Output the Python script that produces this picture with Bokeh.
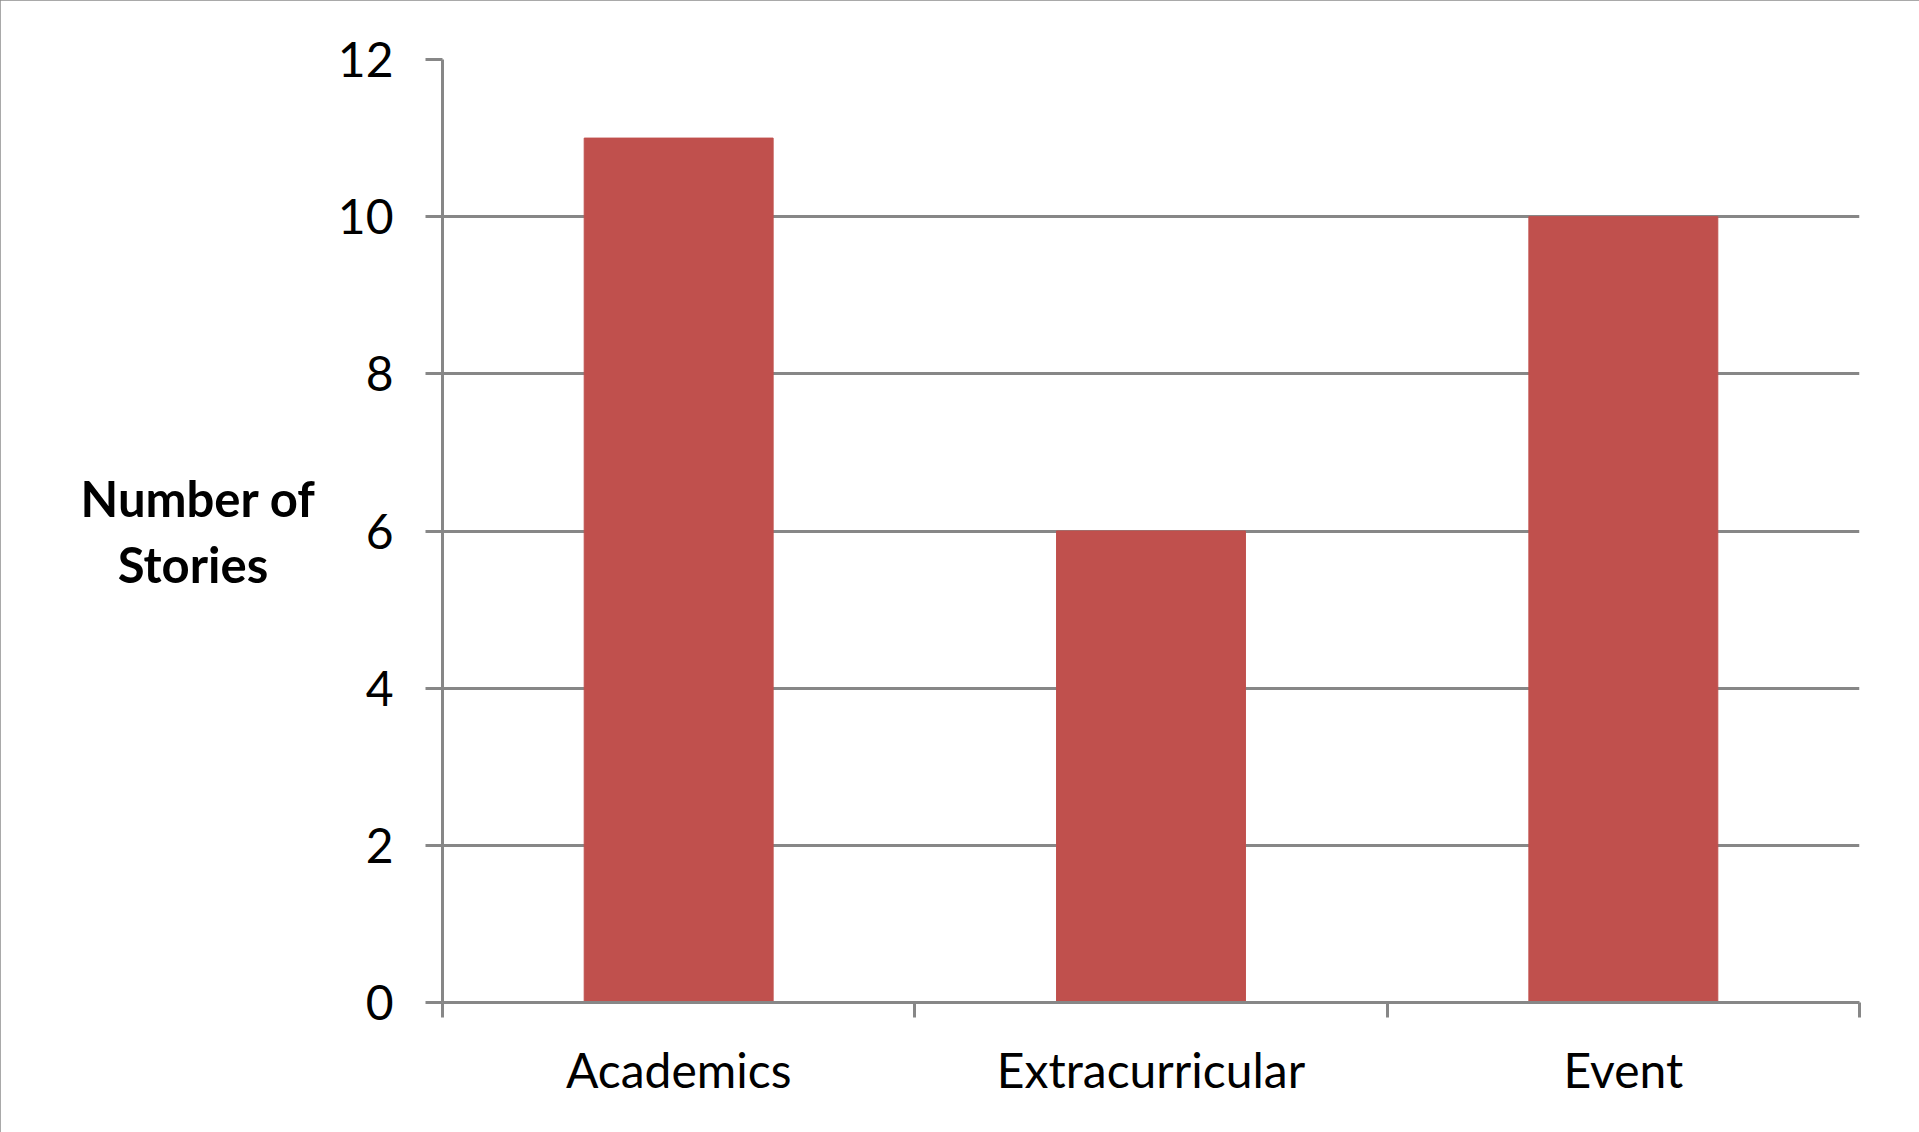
from bokeh.plotting import figure
from bokeh.models import FixedTicker, ColumnDataSource
from bokeh.embed import file_html
from bokeh.resources import INLINE

categories = ["Academics", "Extracurricular", "Event"]
stories = [11, 6, 10]
y_ticks = [0, 2, 4, 6, 8, 10, 12]
y_title_lines = ["Number of", "Stories"]

GRAY = "#878787"
BAR = "#C0504D"
FONT = "Lato"

xpos = [i + 0.5 for i in range(len(categories))]
src = ColumnDataSource(dict(x=xpos, top=stories, cat=categories))

p = figure(width=1919, height=1132, frame_width=1417, frame_height=943,
           x_range=(0, len(categories)), y_range=(0, 12),
           output_backend="svg", toolbar_location=None, tools="",
           min_border_left=442, min_border_top=59, min_border_right=60, min_border_bottom=130)
p.outline_line_color = None
p.styles = {"outline": "3px solid #8c8c8c", "outline-offset": "-3px"}

p.vbar(x="x", top="top", width=0.4, bottom=0, source=src, fill_color=BAR, line_color=BAR)

# y axis
p.yaxis.ticker = FixedTicker(ticks=y_ticks)
p.yaxis.axis_line_color = GRAY
p.yaxis.axis_line_width = 3
p.yaxis.major_tick_line_color = GRAY
p.yaxis.major_tick_line_width = 3
p.yaxis.major_tick_out = 17
p.yaxis.major_tick_in = 0
p.yaxis.minor_tick_line_color = None
p.yaxis.major_label_text_font = FONT
p.yaxis.major_label_text_font_size = "48px"
p.yaxis.major_label_text_color = "black"
p.yaxis.major_label_standoff = 32
# second line padded with no-break spaces so both lines appear centred
p.yaxis.axis_label = y_title_lines[0] + "\n" + y_title_lines[1] + "\u00a0" * 4
p.yaxis.axis_label_orientation = "horizontal"
p.yaxis.axis_label_text_font = FONT
p.yaxis.axis_label_text_font_style = "bold"
p.yaxis.axis_label_text_font_size = "49px"
p.yaxis.axis_label_text_color = "black"
p.yaxis.axis_label_text_line_height = 1.15
p.yaxis.axis_label_standoff = 19

# x axis
p.xaxis.ticker = FixedTicker(ticks=xpos, minor_ticks=list(range(len(categories) + 1)))
p.xaxis.major_label_overrides = {x: c for x, c in zip(xpos, categories)}
p.xaxis.axis_line_color = GRAY
p.xaxis.axis_line_width = 3
p.xaxis.major_tick_out = 0
p.xaxis.major_tick_in = 0
p.xaxis.major_tick_line_color = None
p.xaxis.minor_tick_line_color = GRAY
p.xaxis.minor_tick_line_width = 3
p.xaxis.minor_tick_out = 15
p.xaxis.minor_tick_in = 0
p.xaxis.major_label_text_font = FONT
p.xaxis.major_label_text_font_size = "48px"
p.xaxis.major_label_text_color = "black"
p.xaxis.major_label_standoff = 23

p.xgrid.grid_line_color = None
p.ygrid.ticker = FixedTicker(ticks=y_ticks)
p.ygrid.grid_line_color = GRAY
p.ygrid.grid_line_width = 3

open("out.html", "w").write(file_html(p, INLINE))
